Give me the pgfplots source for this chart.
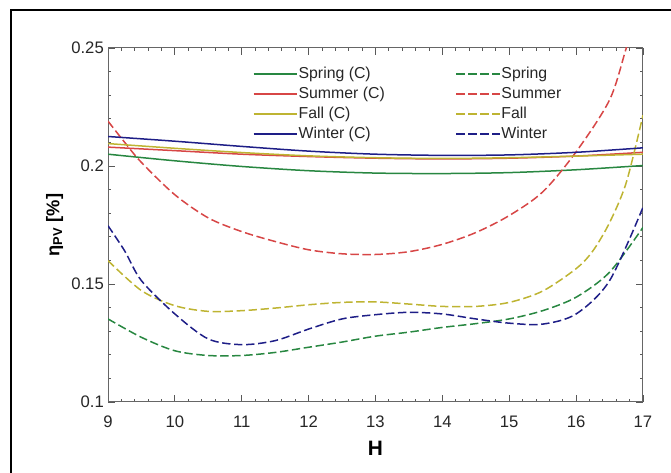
\documentclass[border=0pt]{standalone}
\usepackage{pgfplots}
\pgfplotsset{compat=1.18}
\usepackage{fontspec}
\setmainfont{Liberation Sans}
\definecolor{cspring}{RGB}{40,135,65}
\definecolor{csummer}{RGB}{215,70,70}
\definecolor{cfall}{RGB}{190,180,50}
\definecolor{cwinter}{RGB}{30,30,135}
\begin{document}
\begin{tikzpicture}[x=0.6pt,y=0.6pt]
\useasboundingbox (0,0) rectangle (671,473);
\draw[line width=1pt] (11,0) -- (11,463) -- (671,463);
\begin{axis}[
  at={(108*0.6pt,71*0.6pt)}, anchor=south west,
  scale only axis, width=321pt, height=212.4pt,
  xmin=9, xmax=17, ymin=0.1, ymax=0.25,
  xtick={9,10,...,17}, ytick={0.1,0.15,0.2,0.25},
  yticklabels={0.1,0.15,0.2,0.25},
  /pgf/number format/assume math mode=true,
  minor x tick num=4, minor y tick num=4,
  tick align=inside, major tick length=4pt, minor tick length=2pt,
  axis line style={gray!80!black, line width=0.6pt},
  every tick/.style={gray!70!black, line width=0.5pt},
  tick label style={font=\fontsize{10}{11}\selectfont, text=black!85},
  xticklabel style={yshift=-5pt},
  yticklabel style={xshift=1pt},
  xlabel={\textbf{H}}, ylabel={\textbf{η\textsubscript{PV} [\%]}},
  xlabel style={font=\fontsize{12.5}{13}\selectfont, yshift=-1pt},
  ylabel style={font=\fontsize{11}{12}\selectfont, yshift=-2pt},
  clip=true,
  legend columns=2,
  legend cell align=left,
  legend image code/.code={\draw[#1, line width=1pt] (0pt,0pt) -- (26pt,0pt);},
  legend style={at={(0.27,0.95)}, anchor=north west, draw=none, fill=none,
    font=\fontsize{9.5}{10}\selectfont, inner xsep=0pt, inner ysep=0pt,
    nodes={inner xsep=0.5pt, inner ysep=0.6pt, text=black!85},
    row sep=2.4pt,
    /tikz/every even column/.append style={column sep=42pt}},
  every axis plot/.append style={line width=0.9pt},
  mydash/.style={dash pattern=on 5pt off 2.2pt},
]
% Spring (C)
\addplot[cspring, smooth] coordinates {(9,0.2050)(10,0.2022)(11,0.1998)(12,0.1980)(13,0.1970)(14,0.1968)(15,0.1972)(16,0.1984)(17,0.2002)};
\addlegendentry{Spring (C)}
% Spring
\addplot[cspring, smooth, mydash] coordinates {(9,0.1352)(9.5,0.1274)(10,0.1217)(10.5,0.1197)(11,0.1197)(11.5,0.1210)(12,0.1232)(12.5,0.1254)(13,0.1279)(13.5,0.1296)(14,0.1316)(14.5,0.1332)(15,0.1352)(15.5,0.1387)(16,0.1444)(16.5,0.1550)(17,0.1740)};
\addlegendentry{Spring}
% Summer (C)
\addplot[csummer, smooth] coordinates {(9,0.2080)(10,0.2065)(11,0.2050)(12,0.2040)(13,0.2033)(14,0.2030)(15,0.2033)(16,0.2042)(17,0.2058)};
\addlegendentry{Summer (C)}
% Summer
\addplot[csummer, smooth, mydash] coordinates {(9,0.2190)(9.25,0.2100)(9.5,0.2015)(10,0.1878)(10.5,0.1780)(11,0.1722)(11.5,0.1680)(12,0.1645)(12.5,0.1628)(13,0.1625)(13.5,0.1637)(14,0.1668)(14.5,0.1718)(15,0.1790)(15.5,0.1890)(16,0.2060)(16.5,0.2280)(16.75,0.2500)(17,0.2740)};
\addlegendentry{Summer}
% Fall (C)
\addplot[cfall, smooth] coordinates {(9,0.2095)(10,0.2075)(11,0.2057)(12,0.2043)(13,0.2035)(14,0.2032)(15,0.2035)(16,0.2042)(17,0.2050)};
\addlegendentry{Fall (C)}
% Fall
\addplot[cfall, smooth, mydash] coordinates {(9,0.1599)(9.5,0.1472)(10,0.1408)(10.5,0.1384)(11,0.1387)(11.5,0.1398)(12,0.1412)(12.5,0.1422)(13,0.1424)(13.5,0.1415)(14,0.1405)(14.5,0.1405)(15,0.1422)(15.5,0.1470)(16,0.1565)(16.25,0.1640)(16.5,0.1760)(16.75,0.1930)(17,0.2215)};
\addlegendentry{Fall}
% Winter (C)
\addplot[cwinter, smooth] coordinates {(9,0.2125)(10,0.2105)(11,0.2083)(12,0.2063)(13,0.2050)(14,0.2045)(15,0.2047)(16,0.2058)(17,0.2077)};
\addlegendentry{Winter (C)}
% Winter
\addplot[cwinter, smooth, mydash] coordinates {(9,0.1747)(9.25,0.1640)(9.5,0.1514)(10,0.1373)(10.5,0.1267)(11,0.1243)(11.5,0.1260)(12,0.1309)(12.5,0.1352)(13,0.1370)(13.5,0.1380)(14,0.1373)(14.5,0.1352)(15,0.1334)(15.5,0.1330)(16,0.1373)(16.5,0.1514)(17,0.1825)};
\addlegendentry{Winter}
\end{axis}
\end{tikzpicture}
\end{document}
